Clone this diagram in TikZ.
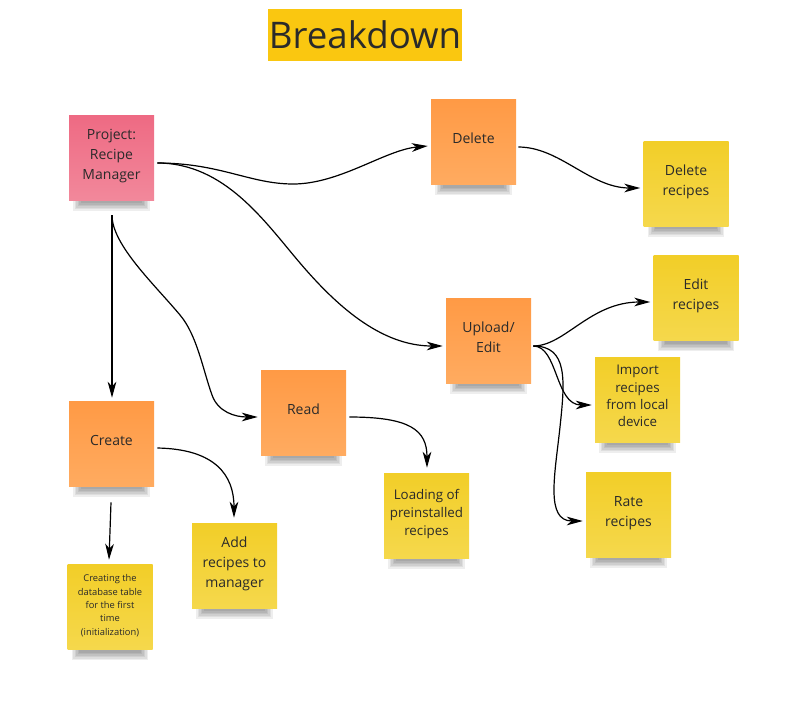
\documentclass[tikz,border=0pt]{standalone}
\usepackage{fontspec}
\setmainfont{Open Sans}
\usetikzlibrary{arrows.meta,calc,backgrounds}
\definecolor{pinkA}{HTML}{EE6A83}
\definecolor{pinkB}{HTML}{F2889B}
\definecolor{orA}{HTML}{FF9A45}
\definecolor{orB}{HTML}{FFAB60}
\definecolor{yeA}{HTML}{F2CE28}
\definecolor{yeB}{HTML}{F5D84C}
\definecolor{titleY}{HTML}{FAC710}
\definecolor{ink}{HTML}{2A2A2A}
\begin{document}
\begin{tikzpicture}[x=0.75pt,y=-0.75pt,
  note/.style={minimum width=63.75pt,minimum height=63.75pt,inner sep=0pt,
    align=center,text=ink,text depth=5pt,font=\fontsize{10.5}{15}\selectfont},
  pinknote/.style={note,top color=pinkA,bottom color=pinkB},
  orangenote/.style={note,top color=orA,bottom color=orB},
  yellownote/.style={note,top color=yeA,bottom color=yeB},
  conn/.style={draw=black,line width=0.9pt,
    -{Stealth[length=12pt,width=6.5pt,inset=3.5pt]}},
  notesh/.style={fill=black,fill opacity=0.065}
]
\useasboundingbox (0,0) rectangle (792,707);

% title
\node[fill=titleY,minimum width=145.5pt,minimum height=39pt,inner sep=0pt,
  text=ink,font=\fontsize{27.5}{30}\selectfont] (title) at (365,35) {Breakdown};

% notes
\node[pinknote] (proj) at (111.5,157.5) {Project:\\Recipe\\Manager};
\node[orangenote] (del) at (473.5,142) {Delete};
\node[yellownote] (delr) at (686,183.5) {Delete\\recipes};
\node[yellownote] (editr) at (696,298) {Edit\\recipes};
\node[orangenote] (up) at (488.5,340.5) {Upload/\\Edit};
\node[yellownote,font=\fontsize{10}{13}\selectfont] (imp) at (637.5,399.5) {Import\\recipes\\from local\\device};
\node[yellownote] (rate) at (628.5,514.5) {Rate\\recipes};
\node[orangenote] (read) at (303.5,412.5) {Read};
\node[yellownote,font=\fontsize{10}{13.5}\selectfont] (load) at (426.5,515.5) {Loading of\\preinstalled\\recipes};
\node[orangenote] (create) at (111.5,443.5) {Create};
\node[yellownote] (add) at (234.5,565.5) {Add\\recipes to\\manager};
\node[yellownote,font=\fontsize{7}{10}\selectfont,text depth=3pt] (db) at (110,607)
  {Creating the\\database table\\for the first\\time\\(initialization)};

% soft shadows
\begin{scope}[on background layer]
\foreach \n in {proj,del,delr,editr,up,imp,rate,read,load,create,add,db}{
  \foreach \i in {1,...,6}{
    \fill[notesh] ($(\n.south west)+({3+1.5*\i},-2)$) rectangle ($(\n.south east)+({-3-1.5*\i},{12-1.5*\i})$);
  }
}
\end{scope}

% connectors
\draw[conn] ($(proj.east)+(3,5.5)$) .. controls (220,163) and (250,184) .. (293,184)
  .. controls (340,184) and (385,150) .. ($(del.west)+(-3,4)$);
\draw[conn] ($(proj.east)+(3,5.5)$) .. controls (225,163) and (265,222) .. (300,263)
  .. controls (335,304) and (380,346) .. ($(up.west)+(-3,5.5)$);
\draw[conn] ($(proj.south)+(0.5,15)$) .. controls (112,245) and (155,285) .. (180,315)
  .. controls (197,335) and (203,370) .. (212,395)
  .. controls (218,412) and (235,417) .. ($(read.west)+(-3,4.5)$);
\draw[conn] ($(proj.south)+(0.5,15)$) -- ($(create.north)+(0.5,-3)$);
\draw[conn] ($(del.east)+(2,5)$) .. controls (560,147) and (590,188) .. ($(delr.west)+(-3,4.5)$);
\draw[conn] ($(up.east)+(2,5.5)$) .. controls (565,346) and (590,302) .. ($(editr.west)+(-3,4)$);
\draw[conn] ($(up.east)+(2,5.5)$) .. controls (558,346) and (555,405) .. ($(imp.west)+(-3,5.5)$);
\draw[conn] ($(up.east)+(2,5.5)$) .. controls (568,346) and (565,380) .. (560,427)
  .. controls (555,474) and (545,521) .. ($(rate.west)+(-3,6.5)$);
\draw[conn] ($(read.east)+(3,4.5)$) .. controls (410,417) and (427,430) .. ($(load.north)+(0.5,-5)$);
\draw[conn] ($(create.east)+(3,4.5)$) .. controls (215,449) and (234,475) .. ($(add.north)+(-0.5,-5)$);
\draw[conn] ($(create.south)+(-0.5,16)$) -- ($(db.north)+(-1,-4.5)$);
\end{tikzpicture}
\end{document}
